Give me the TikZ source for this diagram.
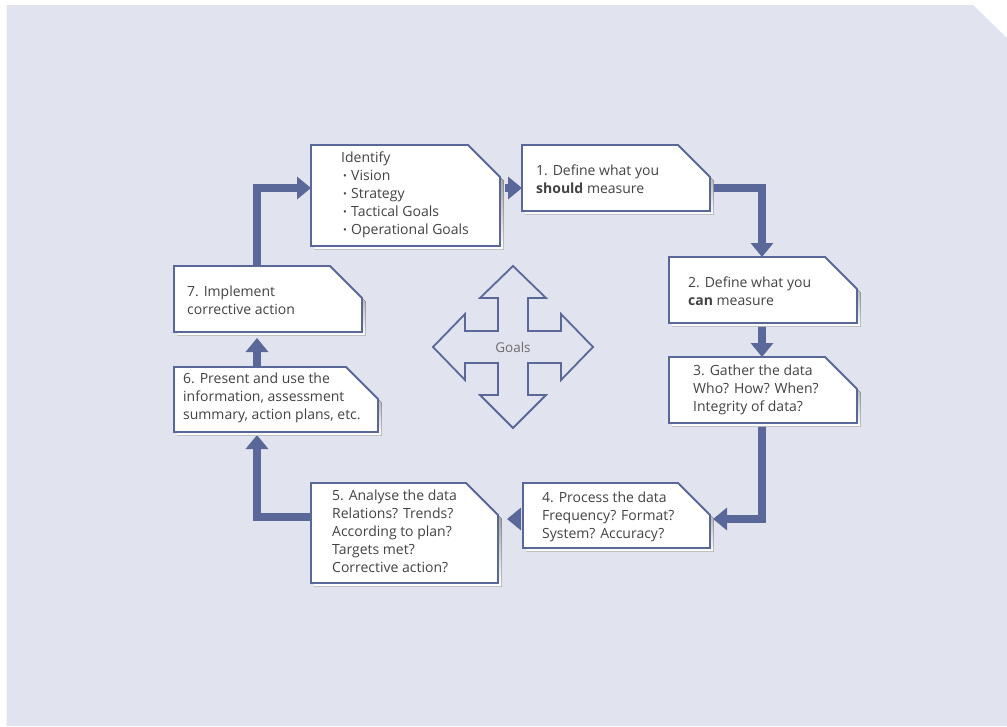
\documentclass[tikz,border=0pt]{standalone}
\usepackage{fontspec}
\setmainfont{Open Sans}
\usetikzlibrary{arrows.meta,calc}

\definecolor{bg}{HTML}{E1E4EE}
\definecolor{ink}{HTML}{5A6799}
\definecolor{shade}{HTML}{C6CBDA}
\definecolor{txt}{HTML}{434343}
\definecolor{goaltxt}{HTML}{6E6E6E}

\tikzset{
  box/.style={rectangle, draw=none, inner sep=0pt, outer sep=0pt, anchor=north west},
  frame/.style={draw=ink, line width=1.8pt, fill=white, line join=miter},
  flow/.style={draw=ink, line width=8pt, line join=miter,
    -{Triangle[width=22pt,length=14pt]}},
  boxtext/.style={anchor=base west, inner sep=0pt, text=txt,
    font=\fontsize{14}{18}\selectfont},
  crossline/.style={draw=ink, line width=1.8pt, line join=miter},
}

% stacked left-aligned lines, aligned on the first baseline
\newcommand\stack[1]{\begin{tabular}[t]{@{}l@{}}#1\end{tabular}}
\newcommand\itm{\hspace*{2pt}\makebox[8pt][l]{\raisebox{0.5pt}{\fontsize{10}{10}\selectfont •}}}

% name: a card with its top right corner cut off, plus its shadow
\newcommand\card[1]{%
  \fill[shade] ([shift={(3.5,3.5)}]#1.north west)
    -- ([shift={(-28.5,3.5)}]#1.north east)
    -- ([shift={(3.5,35.5)}]#1.north east)
    -- ([shift={(3.5,3.5)}]#1.south east)
    -- ([shift={(3.5,3.5)}]#1.south west) -- cycle;
  \path[frame] (#1.north west) -- ([shift={(-32,0)}]#1.north east)
    -- ([shift={(0,32)}]#1.north east) -- (#1.south east)
    -- (#1.south west) -- cycle;
}

\begin{document}
\begin{tikzpicture}[x=1pt, y=-1pt]
  \useasboundingbox (0,0) rectangle (1007,726);
  \fill[bg] (6.5,5) -- (973,5) -- (1007,38) -- (1007,726) -- (6.5,726) -- cycle;

  % box frames (placed first so the connectors can refer to them)
  \node[box, minimum width=189pt, minimum height=101pt] (id) at (311,145) {};
  \node[box, minimum width=188pt, minimum height=66pt] (b1) at (522,145) {};
  \node[box, minimum width=188pt, minimum height=66pt] (b2) at (669,257) {};
  \node[box, minimum width=188pt, minimum height=66pt] (b3) at (669,357) {};
  \node[box, minimum width=187pt, minimum height=65pt] (b4) at (523,483) {};
  \node[box, minimum width=187pt, minimum height=100pt] (b5) at (311,483) {};
  \node[box, minimum width=204pt, minimum height=65pt] (b6) at (174,367) {};
  \node[box, minimum width=188pt, minimum height=66pt] (b7) at (174,266) {};

  % routing lines for the loop
  \coordinate (rowA) at (0,188);
  \coordinate (rowB) at (0,519);
  \coordinate (rowC) at (0,517);
  \coordinate (colL) at (257,0);
  \coordinate (colR) at (762,0);

  % connectors
  \draw[flow, shorten <=5pt] (id.east |- rowA) -- (b1.west |- rowA);
  \draw[flow] (b1.east |- rowA) -| (colR |- b2.north);
  \draw[flow] (colR |- b2.south) -- (colR |- b3.north);
  \draw[flow, shorten >=3pt] (colR |- b3.south) |- (b4.east |- rowB);
  \draw[flow, shorten <=5pt, shorten >=9pt] (b4.west |- rowB) -- (b5.east |- rowB);
  \draw[flow, shorten >=3pt] (b5.west |- rowC) -| (colL |- b6.south);
  \draw[flow, shorten >=6pt] (colL |- b6.north) -- (colL |- b7.south);
  \draw[flow] (colL |- b7.north) |- (id.west |- rowA);

  % card outlines drawn over the connector ends
  \card{id}
  \card{b1}
  \card{b2}
  \card{b3}
  \card{b4}
  \card{b5}
  \card{b6}
  \card{b7}

  % card texts
  \node[boxtext] (tid) at (341,162) {\stack{Identify\\ \itm Vision\\ \itm Strategy\\ \itm Tactical Goals\\ \itm Operational Goals}};
  \node[boxtext] (t1) at (536,175) {\stack{1. Define what you\\ \textbf{should} measure}};
  \node[boxtext] (t2) at (688,287) {\stack{2. Define what you\\ \textbf{can} measure}};
  \node[boxtext] (t3) at (693,375) {\stack{3. Gather the data\\ Who? How? When?\\ Integrity of data?}};
  \node[boxtext] (t4) at (542,502) {\stack{4. Process the data\\ Frequency? Format?\\ System? Accuracy?}};
  \node[boxtext] (t5) at (332,500) {\stack{5. Analyse the data\\ Relations? Trends?\\ According to plan?\\ Targets met?\\ Corrective action?}};
  \node[boxtext] (t6) at (183,383) {\stack{6. Present and use the\\ information, assessment\\ summary, action plans, etc.}};
  \node[boxtext] (t7) at (187,296) {\stack{7. Implement\\ corrective action}};

  % four-way goals arrow
  \node[inner sep=0pt, text=goaltxt, font=\fontsize{13.5}{15}\selectfont] (goals) at (513,347) {Goals};
  \draw[crossline] (goals.center)
    ++(0,-81) -- ++(33,32) -- ++(-18,0) -- ++(0,33) -- ++(33,0) -- ++(0,-17)
    -- ++(32,33) -- ++(-32,33) -- ++(0,-17) -- ++(-33,0) -- ++(0,32)
    -- ++(18,0) -- ++(-33,33) -- ++(-33,-33) -- ++(18,0) -- ++(0,-32)
    -- ++(-33,0) -- ++(0,17) -- ++(-32,-33) -- ++(32,-33) -- ++(0,17)
    -- ++(33,0) -- ++(0,-33) -- ++(-18,0) -- cycle;
\end{tikzpicture}
\end{document}
